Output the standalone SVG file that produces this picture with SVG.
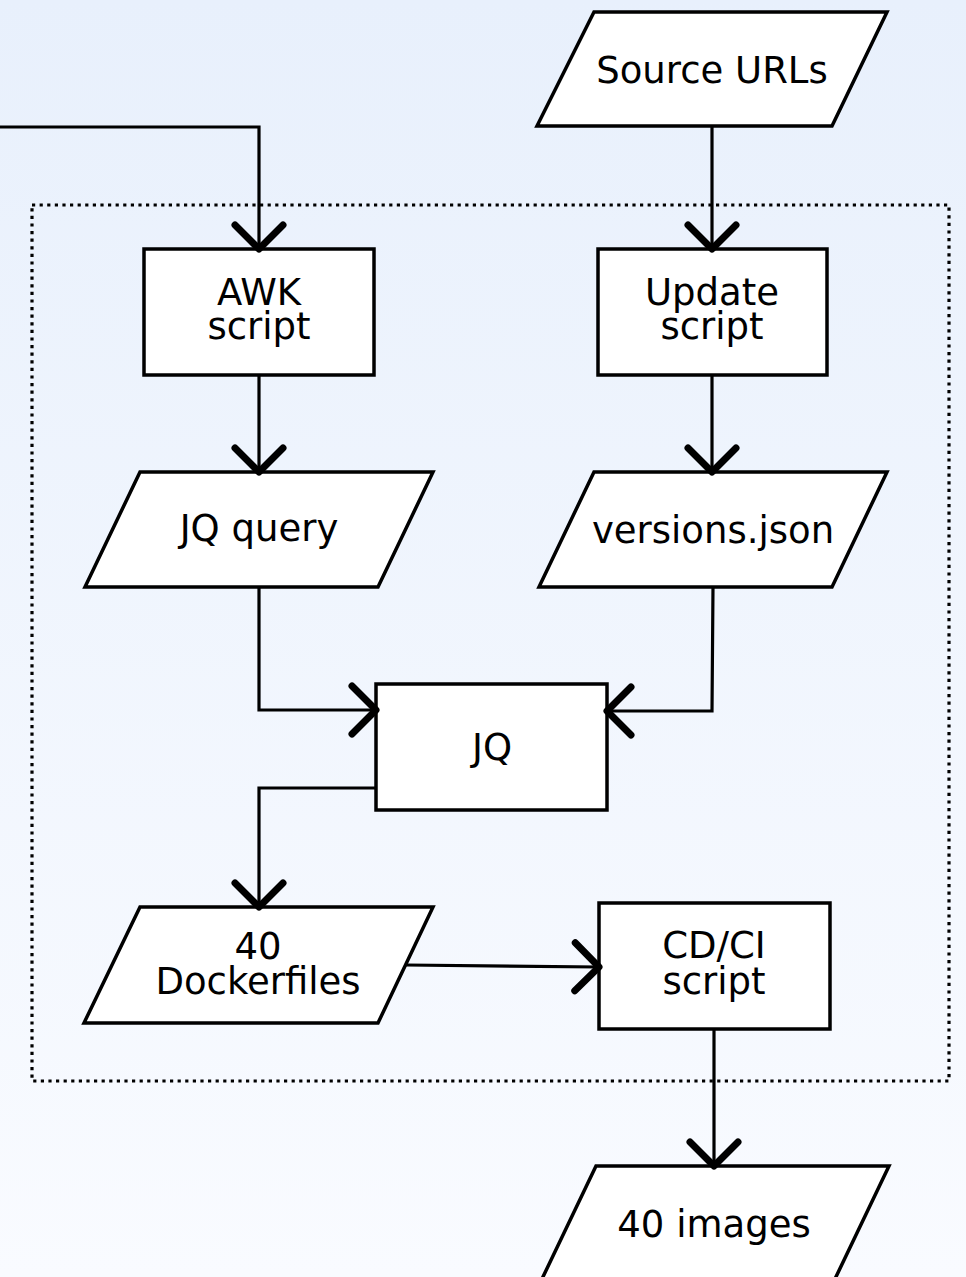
<svg xmlns="http://www.w3.org/2000/svg" width="966" height="1277" viewBox="0 0 966 1277">
  <defs>
    <linearGradient id="bg" x1="0" y1="0" x2="0" y2="1">
      <stop offset="0" stop-color="#e8f0fc"/>
      <stop offset="1" stop-color="#f9fbff"/>
    </linearGradient>
    <marker id="chevron" markerUnits="userSpaceOnUse" viewBox="-35 -35 45 70" markerWidth="45" markerHeight="70" refX="0" refY="0" orient="auto" overflow="visible">
      <path d="M-24,-24 L0,0 L-24,24" fill="none" stroke="#000" stroke-width="7" stroke-linecap="round" stroke-linejoin="round"/>
    </marker>
    <style>
      .shape { fill: #fff; stroke: #000; stroke-width: 3.5; }
      .label { font-family: "DejaVu Sans", "Liberation Sans", sans-serif; font-size: 37px; fill: #000; text-anchor: middle; }
      .wire { fill: none; stroke: #000; stroke-width: 3.2; marker-end: url(#chevron); }
      .frame { fill: none; stroke: #000; stroke-width: 3.2; stroke-dasharray: 3.2 4.4; }
    </style>
  </defs>

  <rect width="966" height="1277" fill="url(#bg)"/>

  <!-- dotted boundary around the build pipeline -->
  <rect class="frame" x="32" y="205" width="917" height="876"/>

  <g id="source-urls">
    <polygon class="shape" points="594,12 887,12 832,126 537,126"/>
    <text class="label" x="712" y="83">Source URLs</text>
  </g>

  <g id="awk-script">
    <rect class="shape" x="144" y="249" width="230" height="126"/>
    <text class="label" x="259" y="305">AWK</text>
    <text class="label" x="259" y="339">script</text>
  </g>

  <g id="update-script">
    <rect class="shape" x="598" y="249" width="229" height="126"/>
    <text class="label" x="712" y="305">Update</text>
    <text class="label" x="712" y="339">script</text>
  </g>

  <g id="jq-query">
    <polygon class="shape" points="140,472 433,472 378,587 85,587"/>
    <text class="label" x="259" y="541">JQ query</text>
  </g>

  <g id="versions-json">
    <polygon class="shape" points="594,472 887,472 832,587 539,587"/>
    <text class="label" x="713" y="543">versions.json</text>
  </g>

  <g id="jq">
    <rect class="shape" x="376" y="684" width="231" height="126"/>
    <text class="label" x="492" y="760">JQ</text>
  </g>

  <g id="dockerfiles">
    <polygon class="shape" points="140,907 433,907 378,1023 84,1023"/>
    <text class="label" x="258" y="959">40</text>
    <text class="label" x="258" y="994">Dockerfiles</text>
  </g>

  <g id="cdci-script">
    <rect class="shape" x="599" y="903" width="231" height="126"/>
    <text class="label" x="714" y="958">CD/CI</text>
    <text class="label" x="714" y="994">script</text>
  </g>

  <g id="images">
    <polygon class="shape" points="596,1166 889,1166 834,1281 541,1281"/>
    <text class="label" x="714" y="1237">40 images</text>
  </g>

  <g id="connectors">
    <path class="wire" d="M0,127 H259 V249"/>
    <path class="wire" d="M712,126 V249"/>
    <path class="wire" d="M259,375 V472"/>
    <path class="wire" d="M712,375 V472"/>
    <path class="wire" d="M259,587 V710 H376"/>
    <path class="wire" d="M713,587 L712,711 H607"/>
    <path class="wire" d="M376,788 H259 V907"/>
    <path class="wire" d="M406,965 L599,967"/>
    <path class="wire" d="M714,1029 V1166"/>
  </g>
</svg>
